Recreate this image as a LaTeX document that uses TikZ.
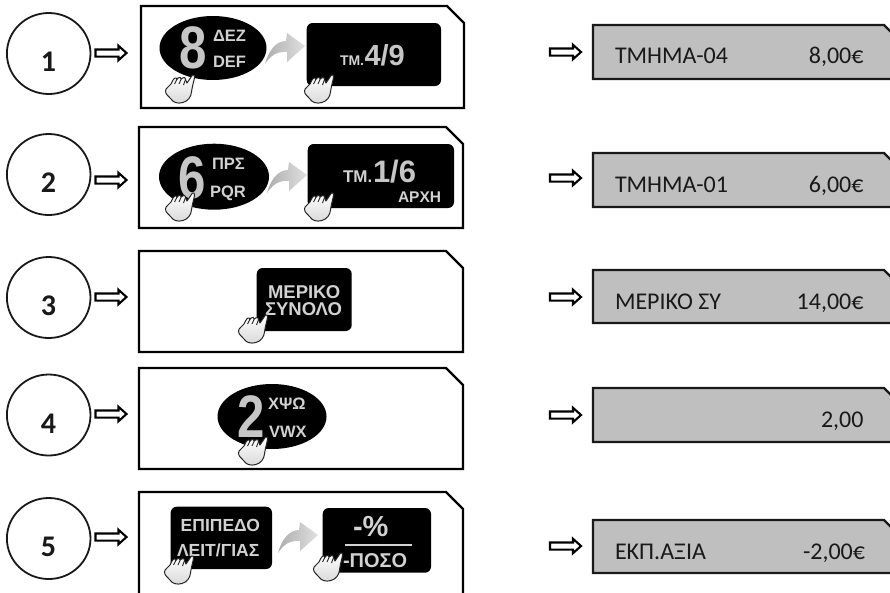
\documentclass[tikz,border=0pt]{standalone}
\usepackage{fontspec}
\usetikzlibrary{shapes.arrows}
\newfontfamily\keyfont{Liberation Sans}[BoldFont={Liberation Sans Bold}]
\newfontfamily\dispfont{Carlito}
\newcommand{\fz}[1]{\fontsize{#1}{#1}\selectfont}
\newcommand{\narrowdigit}[1]{\scalebox{0.82}[1]{#1}}
\definecolor{keygray}{HTML}{D2D2D2}
\definecolor{biggray}{HTML}{C6C6C6}
\definecolor{dispgray}{HTML}{BFBFBF}
\tikzset{
  panelline/.style={draw=black,line width=2.2pt,line join=miter,fill=white},
  displine/.style={draw=black!90,line width=2.2pt,fill=dispgray},
  keytext/.style={inner sep=0pt,outer sep=0pt,anchor=base west,text=keygray,font=\keyfont\bfseries},
  bigdigit/.style={keytext,text=biggray},
  disptext/.style={inner sep=0pt,outer sep=0pt,anchor=base west,text=black!90,font=\dispfont\fz{24}},
  dispval/.style={disptext,anchor=base east},
  stepnum/.style={inner sep=0pt,outer sep=0pt,anchor=base,text=black!90,font=\dispfont\bfseries\fz{30}},
  blockarrow/.style={single arrow,draw=black,fill=white,line width=2.1pt,minimum height=31pt,minimum width=14.5pt,
     inner sep=2.4pt,outer sep=0pt,single arrow head extend=3.6pt,single arrow tip angle=84,single arrow head indent=0pt,anchor=west},
  hand/.pic={
    \path[draw=black!85,line width=1pt,line join=round,top color=white,bottom color=black!15]
      (0,0) .. controls (1,1) and (0.5,3) .. (0,5)
      .. controls (-1,9) and (-2,13) .. (-2.5,17)
      .. controls (-3,22) and (-6,26) .. (-11,27.5)
      .. controls (-16,29) and (-21,27.5) .. (-23,24)
      .. controls (-25,21) and (-28.5,20) .. (-28.5,16)
      .. controls (-28.5,13) and (-25,12) .. (-23,9)
      .. controls (-22,7) and (-20.5,3.5) .. (-19,3)
      .. controls (-17.5,2.5) and (-17,3.5) .. (-17.5,5)
      -- (-16,3) .. controls (-15,2) and (-12.5,2) .. (-12.8,4)
      -- (-11,2.8) .. controls (-10,2) and (-8,2.5) .. (-8.5,4.5)
      -- (-7,8) -- (-1.5,0) .. controls (-1,-0.5) and (-0.5,-0.5) .. (0,0) -- cycle;
    \draw[black!85,line width=0.9pt] (-19.5,9) -- (-17.5,5) (-15,9) -- (-12.8,4) (-10.5,10) -- (-8.5,4.5);
  },
  bentarrow/.pic={
    \path[left color=black!32,right color=black!12]
      (0,0) -- (-18,-13) -- (-19,-5)
      .. controls (-28,-5) and (-36,3) .. (-40,18)
      .. controls (-35,10) and (-28,5) .. (-18,6)
      -- (-18,16) -- cycle;
  }
}
\newcommand{\panel}[5]{% left, top, right, bottom, chamfer
  \path[panelline] (#1,#2) -- ({#3-#5},#2) -- (#3,{#2+#5}) -- (#3,#4) -- (#1,#4) -- cycle;}
\newcommand{\dispbox}[2]{% top, bottom
  \path[displine] (593,#1) -- (884,#1) -- (902,{#1+18}) -- (902,#2) -- (593,#2) -- cycle;}
\begin{document}
\begin{tikzpicture}[x=1pt,y=-1pt]
\clip (0,0) rectangle (890,592);
\fill[white] (0,0) rectangle (890,592);
% step circles
\foreach \n/\cy/\ty in {1/53.5/71,2/174.5/192,3/297.5/315,4/415/433,5/538.5/556}{
  \draw[draw=black!90,line width=1.8pt] (48.7,\cy) ellipse [x radius=41.8,y radius=40.5];
  \node[stepnum] (num\n) at (48.5,\ty) {\n};
}
% arrows left
\foreach \n/\ay in {1/53,2/180,3/297,4/414,5/537}{
  \node[blockarrow] (la\n) at (95.5,\ay) {};
}
% arrows right
\foreach \n/\ay in {1/52,2/178,3/297,4/415,5/546}{
  \node[blockarrow] (ra\n) at (550,\ay) {};
}
% panels
\panel{141}{6}{464}{108}{17}
\panel{139}{127}{463}{228}{17}
\panel{139}{251}{463}{352}{17}
\panel{139}{368}{463}{469}{17}
\panel{139}{492}{463}{610}{17}
% displays
\dispbox{25}{79}
\dispbox{153}{207}
\dispbox{270}{323}
\dispbox{388}{442}
\dispbox{520}{573}
\node[disptext] (d1a) at (615,63.5) {ΤΜΗΜΑ-04};
\node[dispval]  (d1b) at (863.5,63.5) {8,00€};
\node[disptext] (d2a) at (615,192) {ΤΜΗΜΑ-01};
\node[dispval]  (d2b) at (863.5,192) {6,00€};
\node[disptext] (d3a) at (615,309) {ΜΕΡΙΚΟ ΣΥ};
\node[dispval]  (d3b) at (863.5,309) {14,00€};
\node[dispval]  (d4b) at (863.5,427) {2,00};
\node[disptext] (d5a) at (615,559) {ΕΚΠ.ΑΞΙΑ};
\node[dispval]  (d5b) at (865,559) {-2,00€};
% row 1
\fill[black] (213,48) ellipse [x radius=53.5,y radius=32];
\node[bigdigit,font=\keyfont\bfseries\fz{60}] (k1) at (179,68.5) {\narrowdigit{8}};
\node[keytext,font=\keyfont\bfseries\fz{16.5}] (k1a) at (213,41.5) {ΔΕΖ};
\node[keytext,font=\keyfont\bfseries\fz{16.5}] (k1b) at (213,67.5) {DEF};
\pic at (305,46) {bentarrow};
\fill[black,rounded corners=6pt] (306.7,23) rectangle (441,86);
\node[keytext,font=\keyfont\bfseries\fz{14}] (k1c) at (340,65) {ΤΜ.};
\node[bigdigit,font=\keyfont\bfseries\fz{29}] (k1d) at (364.5,65) {4/9};
\pic at (194,75) {hand};
\pic at (333,75) {hand};
% row 2
\fill[black] (214,176.7) ellipse [x radius=55,y radius=33];
\node[bigdigit,font=\keyfont\bfseries\fz{60}] (k2) at (178,198) {\narrowdigit{6}};
\node[keytext,font=\keyfont\bfseries\fz{16.5}] (k2a) at (212,169) {ΠΡΣ};
\node[keytext,font=\keyfont\bfseries\fz{16.5}] (k2b) at (210,197) {PQR};
\pic at (307,175) {bentarrow};
\fill[black,rounded corners=6pt] (307.7,144) rectangle (454,208);
\node[keytext,font=\keyfont\bfseries\fz{17}] (k2c) at (343,182.7) {ΤΜ.};
\node[bigdigit,font=\keyfont\bfseries\fz{31}] (k2d) at (373,182.7) {1/6};
\node[keytext,font=\keyfont\bfseries\fz{15.5}] (k2e) at (398,202.7) {ΑΡΧΗ};
\pic at (194,193) {hand};
\pic at (333,193) {hand};
% row 3
\fill[black,rounded corners=6pt] (256.7,268) rectangle (351.7,331);
\node[keytext,font=\keyfont\bfseries\fz{18.5}] (k3a) at (268,298) {ΜΕΡΙΚΟ};
\node[keytext,font=\keyfont\bfseries\fz{18.5}] (k3b) at (265,315) {ΣΥΝΟΛΟ};
\pic at (267,315) {hand};
% row 4
\fill[black] (272,416.5) ellipse [x radius=54.5,y radius=32.5];
\node[bigdigit,font=\keyfont\bfseries\fz{60}] (k4) at (237,437.7) {\narrowdigit{2}};
\node[keytext,font=\keyfont\bfseries\fz{16.5}] (k4a) at (268,409) {ΧΨΩ};
\node[keytext,font=\keyfont\bfseries\fz{16.5}] (k4b) at (269,437.7) {VWX};
\pic at (267,437) {hand};
% row 5
\pic at (318,535) {bentarrow};
\fill[black,rounded corners=6pt] (170.7,506.7) rectangle (272,569);
\node[keytext,font=\keyfont\bfseries\fz{17.5}] (k5a) at (180.7,531.7) {ΕΠΙΠΕΔΟ};
\node[keytext,font=\keyfont\bfseries\fz{17.5}] (k5b) at (177,556) {ΛΕΙΤ/ΓΙΑΣ};
\fill[black,rounded corners=6pt] (322.7,508) rectangle (431,572.7);
\node[keytext,font=\keyfont\bfseries\fz{29}] (k5c) at (353,536) {-\%};
\fill[keygray] (345,544) rectangle (412,546);
\node[keytext,font=\keyfont\bfseries\fz{20}] (k5d) at (343,567) {-ΠΟΣΟ};
\pic at (193,556) {hand};
\pic at (342,553) {hand};
\end{tikzpicture}
\end{document}
